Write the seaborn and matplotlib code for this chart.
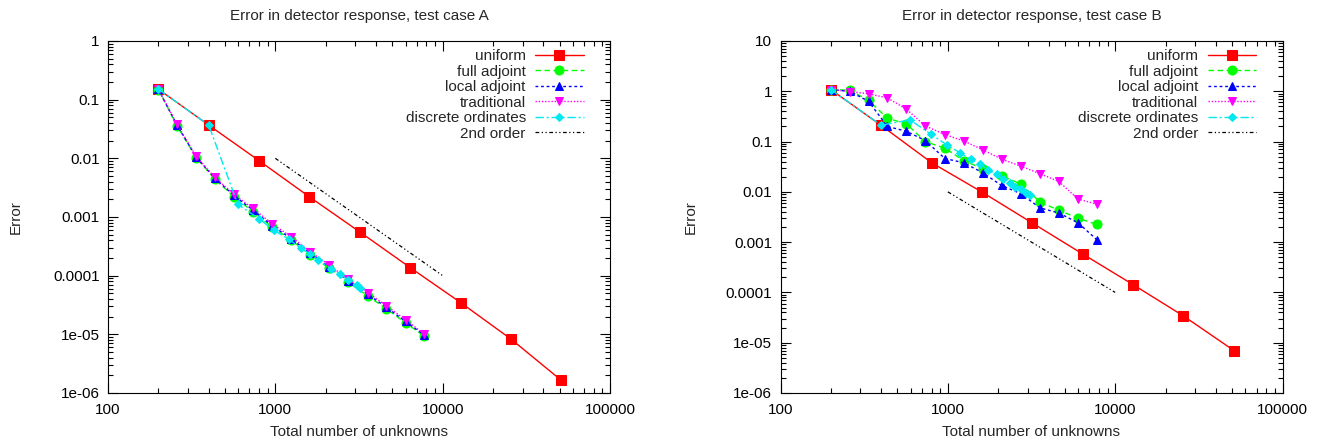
import matplotlib
matplotlib.use("Agg")
import matplotlib.pyplot as plt
import matplotlib.ticker as mticker
import numpy as np
import seaborn as sns

# --- data ---
x_uniform = [200, 400, 800, 1600, 3200, 6400, 12800, 25600, 51200]
x_adapt = [200, 259, 336, 435, 566, 733, 960, 1242, 1618, 2094, 2729, 3555, 4603, 5998, 7765]
x_order2 = [1000, 10000]
y_order2 = [0.01, 0.0001]

# test case A
a_uniform = [0.151, 0.0368, 0.0091, 0.0022, 0.000555, 0.000137, 3.48e-5, 8.3e-6, 1.64e-6]
a_full = [0.149, 0.0355, 0.0103, 0.0044, 0.00222, 0.00124, 0.00067, 0.000405, 0.000226,
          0.000134, 7.7e-5, 4.55e-5, 2.72e-5, 1.57e-5, 9.3e-6]
a_local = [0.150, 0.0365, 0.0106, 0.00458, 0.00233, 0.00132, 0.00071, 0.00043, 0.000240,
           0.000142, 8.2e-5, 4.85e-5, 2.9e-5, 1.66e-5, 9.7e-6]
a_trad = [0.151, 0.0378, 0.0109, 0.00474, 0.00243, 0.00141, 0.00076, 0.000462, 0.000257,
          0.000152, 8.7e-5, 5.15e-5, 3.1e-5, 1.77e-5, 1.01e-5]
a_x_do = [200, 400, 597, 804, 977, 1205, 1419, 1610, 1805, 2155, 2420, 2722, 3056, 3214]
a_do = [0.151, 0.0368, 0.00164, 0.000925, 0.000594, 0.000418, 0.000294, 0.000235, 0.000185,
        0.00013, 0.000106, 8.5e-5, 6.97e-5, 6.1e-5]

# test case B
b_uniform = [1.08, 0.209, 0.038, 0.0099, 0.0024, 0.00058, 0.000143, 3.4e-5, 7.0e-6]
b_full = [1.08, 1.05, 0.66, 0.29, 0.225, 0.100, 0.074, 0.042, 0.0288, 0.021, 0.0143,
          0.0063, 0.0043, 0.0030, 0.00225]
b_local = [1.08, 1.0, 0.63, 0.20, 0.16, 0.105, 0.046, 0.038, 0.024, 0.0134, 0.0092,
           0.0048, 0.0038, 0.00243, 0.00112]
b_trad = [1.08, 0.99, 0.89, 0.74, 0.44, 0.205, 0.138, 0.103, 0.0685, 0.0448, 0.0325,
          0.0229, 0.0161, 0.0072, 0.0057]
b_x_do = [200, 400, 594, 791, 986, 1185, 1372, 1560, 1749, 1963, 2149, 2358, 2525, 2733, 2939, 3105]
b_do = [1.08, 0.212, 0.27, 0.141, 0.086, 0.0597, 0.0442, 0.0351, 0.0271, 0.0223, 0.018,
        0.0148, 0.0126, 0.0112, 0.0096, 0.0086]

sns.set_theme(style="ticks")
plt.rcParams['font.family'] = ['Liberation Sans', 'DejaVu Sans']
plt.rcParams['font.size'] = 11
FS = 11


def draw_panel(ax, uniform, full, local, trad, x_do, do, title, ylim):
    sns.lineplot(x=x_uniform, y=uniform, ax=ax, color='#ff0000', marker='s', markersize=7.5,
                 mec='#ff0000', lw=1.0, linestyle='-', label='uniform', sort=False, estimator=None)
    sns.lineplot(x=x_adapt, y=full, ax=ax, color='#00ff00', marker='o', markersize=6.5,
                 mec='#00ff00', lw=1.0, linestyle=(0, (4, 2.5)), label='full adjoint',
                 sort=False, estimator=None)
    sns.lineplot(x=x_adapt, y=local, ax=ax, color='#0000ff', marker='^', markersize=6,
                 mec='#0000ff', lw=1.0, linestyle=(0, (2, 2)), label='local adjoint',
                 sort=False, estimator=None)
    sns.lineplot(x=x_adapt, y=trad, ax=ax, color='#ff00ff', marker='v', markersize=6,
                 mec='#ff00ff', lw=1.0, linestyle=(0, (1, 1.3)), label='traditional',
                 sort=False, estimator=None)
    sns.lineplot(x=x_do, y=do, ax=ax, color='#00e8f0', marker='D', markersize=4.2,
                 mec='#00e8f0', lw=1.0, linestyle=(0, (6, 2, 1.5, 2)), label='discrete ordinates',
                 sort=False, estimator=None)
    sns.lineplot(x=x_order2, y=y_order2, ax=ax, color='black', lw=0.9,
                 linestyle=(0, (3, 2, 1, 2, 1, 2)), label='2nd order', sort=False, estimator=None)

    ax.set_xscale('log')
    ax.set_yscale('log')
    ax.set_xlim(100, 100000)
    ax.set_ylim(*ylim)

    fmt = mticker.FuncFormatter(lambda v, pos: f"{v:g}")
    ax.xaxis.set_major_locator(mticker.LogLocator(base=10, numticks=20))
    ax.yaxis.set_major_locator(mticker.LogLocator(base=10, numticks=20))
    ax.xaxis.set_minor_locator(mticker.LogLocator(base=10, subs=np.arange(2, 10), numticks=20))
    ax.yaxis.set_minor_locator(mticker.LogLocator(base=10, subs=np.arange(2, 10), numticks=20))
    ax.xaxis.set_major_formatter(fmt)
    ax.yaxis.set_major_formatter(fmt)
    ax.xaxis.set_minor_formatter(mticker.NullFormatter())
    ax.yaxis.set_minor_formatter(mticker.NullFormatter())
    ax.tick_params(which='both', direction='in', top=True, right=True, colors='black',
                   labelsize=FS)
    ax.tick_params(which='major', length=7, width=0.8)
    ax.tick_params(which='minor', length=3.5, width=0.8)
    ax.tick_params(axis='x', pad=7)
    ax.tick_params(axis='y', pad=6)
    for s in ax.spines.values():
        s.set_color('black')
        s.set_linewidth(0.8)

    ax.set_title(title, fontsize=FS, pad=15)
    ax.set_xlabel('Total number of unknowns', fontsize=FS)
    ax.set_ylabel('Error', fontsize=FS)
    ax.xaxis.set_label_coords(0.5, -0.09)

    ax.legend(loc='upper right', bbox_to_anchor=(0.948, 0.977), frameon=False,
              markerfirst=False, handlelength=3.2, fontsize=FS, labelspacing=0.1,
              borderaxespad=0.0, borderpad=0.0, handletextpad=0.6)


fig = plt.figure(figsize=(13.21, 4.41), dpi=100)
ax1 = fig.add_axes([108 / 1321, 48 / 441, 502 / 1321, 352 / 441])
ax2 = fig.add_axes([780.5 / 1321, 48 / 441, 502 / 1321, 352 / 441])

draw_panel(ax1, a_uniform, a_full, a_local, a_trad, a_x_do, a_do,
           'Error in detector response, test case A', (1e-6, 1))
draw_panel(ax2, b_uniform, b_full, b_local, b_trad, b_x_do, b_do,
           'Error in detector response, test case B', (1e-6, 10))
ax1.yaxis.set_label_coords(-0.17, 0.5)
ax2.yaxis.set_label_coords(-0.165, 0.5)

fig.savefig('out.png', dpi=100)
plt.close()
